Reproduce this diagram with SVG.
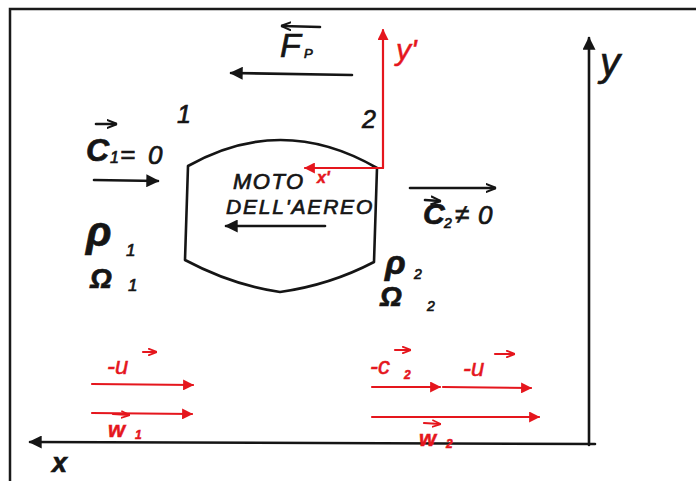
<svg xmlns="http://www.w3.org/2000/svg" width="696" height="481" viewBox="0 0 696 481">
<style>
.k{fill:none;stroke:#151515;stroke-width:2.6;stroke-linecap:round;stroke-linejoin:round}
.r{fill:none;stroke:#e5161d;stroke-width:2.2;stroke-linecap:round}
.t{font-family:"Liberation Sans",Arial,sans-serif;font-style:italic;fill:#151515;stroke:#151515;stroke-width:0.7}
.tr{font-family:"Liberation Sans",Arial,sans-serif;font-style:italic;fill:#e5161d;stroke:#e5161d;stroke-width:0.5}
</style>
<defs>
<marker id="ak" viewBox="0 0 10 10" refX="9" refY="5" markerWidth="5" markerHeight="5" orient="auto" markerUnits="strokeWidth">
<path d="M0,0 L10,5 L0,10 Z" fill="#151515"/>
</marker>
<marker id="ar" viewBox="0 0 10 10" refX="9" refY="5" markerWidth="5" markerHeight="5" orient="auto" markerUnits="strokeWidth">
<path d="M0,0 L10,5 L0,10 Z" fill="#e5161d"/>
</marker>
<marker id="sk" viewBox="0 0 10 10" refX="9" refY="5" markerWidth="4" markerHeight="4" orient="auto" markerUnits="strokeWidth">
<path d="M0,1 L10,5 L0,9" fill="none" stroke="#151515" stroke-width="2"/>
</marker>
<marker id="sr" viewBox="0 0 10 10" refX="9" refY="5" markerWidth="4" markerHeight="4" orient="auto" markerUnits="strokeWidth">
<path d="M0,1 L10,5 L0,9" fill="none" stroke="#e5161d" stroke-width="2"/>
</marker>
</defs>
<rect width="696" height="481" fill="#ffffff"/>
<!-- frame -->
<path d="M10,481 L10,9 L696,9" fill="none" stroke="#1a1a1a" stroke-width="2.5"/>

<!-- aircraft body -->
<g id="aereo">
<path class="k" d="M188,166 Q282,113 377,168 L374,262 Q330,285 280,292 Q232,285 185,260 Z"/>
<text class="t" x="233" y="189" font-size="22" letter-spacing="1.5" stroke-width="0.4">MOTO</text>
<text class="t" x="226" y="214" font-size="21" letter-spacing="1.8" stroke-width="0.4">DELL'AEREO</text>
<line class="k" x1="325" y1="226" x2="226" y2="226" marker-end="url(#ak)"/>
</g>

<g id="connectors">
<!-- F_p arrow -->
<line class="k" x1="352" y1="75" x2="231" y2="73" marker-end="url(#ak)"/>
<!-- c1 arrow -->
<line class="k" x1="94" y1="180" x2="158" y2="181" marker-end="url(#ak)"/>
<!-- c2 arrow -->
<line class="k" x1="410" y1="188" x2="495" y2="188" stroke-width="2" marker-end="url(#sk)"/>
<!-- red relative axes -->
<line class="r" x1="383" y1="168" x2="383" y2="30" stroke-width="2.4" marker-end="url(#ar)"/>
<line class="r" x1="383" y1="168" x2="305" y2="168" stroke-width="2.4" marker-end="url(#ar)"/>
<!-- absolute axes -->
<line class="k" x1="589" y1="445" x2="589" y2="38" stroke-width="2.2" marker-end="url(#ak)"/>
<line class="k" x1="595" y1="444" x2="30" y2="442" stroke-width="2.2" marker-end="url(#ak)"/>
<!-- red velocity arrows left -->
<line class="r" x1="92" y1="384" x2="193" y2="385" marker-end="url(#ar)"/>
<line class="r" x1="92" y1="413" x2="192" y2="414" marker-end="url(#ar)"/>
<!-- red velocity arrows right -->
<line class="r" x1="372" y1="387" x2="440" y2="387" marker-end="url(#ar)"/>
<line class="r" x1="443" y1="387" x2="531" y2="388" marker-end="url(#ar)"/>
<line class="r" x1="372" y1="417" x2="539" y2="417" marker-end="url(#ar)"/>
</g>

<!-- labels -->
<g id="Fp">
<line class="k" x1="320" y1="27" x2="282" y2="26" stroke-width="2" marker-end="url(#sk)"/>
<text class="t" x="280" y="57" font-size="34">F</text>
<text class="t" x="304" y="58" font-size="13">P</text>
</g>
<g id="sez1">
<text class="t" x="177" y="123" font-size="25">1</text>
<line class="k" x1="96" y1="124" x2="116" y2="124" stroke-width="1.8" marker-end="url(#sk)"/>
<text class="t" x="86" y="161" font-size="32" font-weight="bold">C</text>
<text class="t" x="110" y="163" font-size="16">1</text>
<text class="t" x="120" y="163" font-size="26">=</text>
<text class="t" x="148" y="164" font-size="26">0</text>
<text class="t" x="86" y="246" font-size="42" font-weight="bold">ρ</text>
<text class="t" x="126" y="256" font-size="17">1</text>
<text class="t" x="90" y="288" font-size="28" font-weight="bold">Ω</text>
<text class="t" x="128" y="291" font-size="17">1</text>
</g>
<g id="sez2">
<text class="t" x="362" y="128" font-size="25">2</text>
<line class="k" x1="425" y1="200" x2="440" y2="201" stroke-width="1.6" marker-end="url(#sk)"/>
<text class="t" x="423" y="224" font-size="30" font-weight="bold">C</text>
<text class="t" x="444" y="228" font-size="14">2</text>
<text class="t" x="455" y="223" font-size="26">≠</text>
<text class="t" x="478" y="224" font-size="26">0</text>
<text class="t" x="385" y="274" font-size="34" font-weight="bold">ρ</text>
<text class="t" x="414" y="279" font-size="14">2</text>
<text class="t" x="380" y="306" font-size="28" font-weight="bold">Ω</text>
<text class="t" x="427" y="311" font-size="14">2</text>
</g>
<g id="assi">
<text class="tr" x="396" y="60" font-size="30">y'</text>
<text class="tr" x="317" y="183" font-size="16" font-weight="bold">x'</text>
<text class="t" x="600" y="76" font-size="40">y</text>
<text class="t" x="52" y="472" font-size="27" font-weight="bold">x</text>
</g>
<g id="velocita">
<line class="r" x1="143" y1="352" x2="156" y2="352" stroke-width="1.6" marker-end="url(#sr)"/>
<text class="tr" x="107" y="374" font-size="24">-u</text>
<line class="r" x1="113" y1="414" x2="129" y2="415" stroke-width="1.6" marker-end="url(#sr)"/>
<text class="tr" x="108" y="437" font-size="22" font-weight="bold">w</text>
<text class="tr" x="135" y="439" font-size="12" font-weight="bold">1</text>

<line class="r" x1="395" y1="350" x2="410" y2="350" stroke-width="1.6" marker-end="url(#sr)"/>
<text class="tr" x="370" y="374" font-size="24">-c</text>
<text class="tr" x="404" y="379" font-size="12" font-weight="bold">2</text>
<line class="r" x1="495" y1="354" x2="514" y2="354" stroke-width="1.6" marker-end="url(#sr)"/>
<text class="tr" x="463" y="376" font-size="24">-u</text>
<line class="r" x1="424" y1="423" x2="440" y2="424" stroke-width="1.6" marker-end="url(#sr)"/>
<text class="tr" x="419" y="446" font-size="22" font-weight="bold">w</text>
<text class="tr" x="446" y="448" font-size="12" font-weight="bold">2</text>
</g>
</svg>
